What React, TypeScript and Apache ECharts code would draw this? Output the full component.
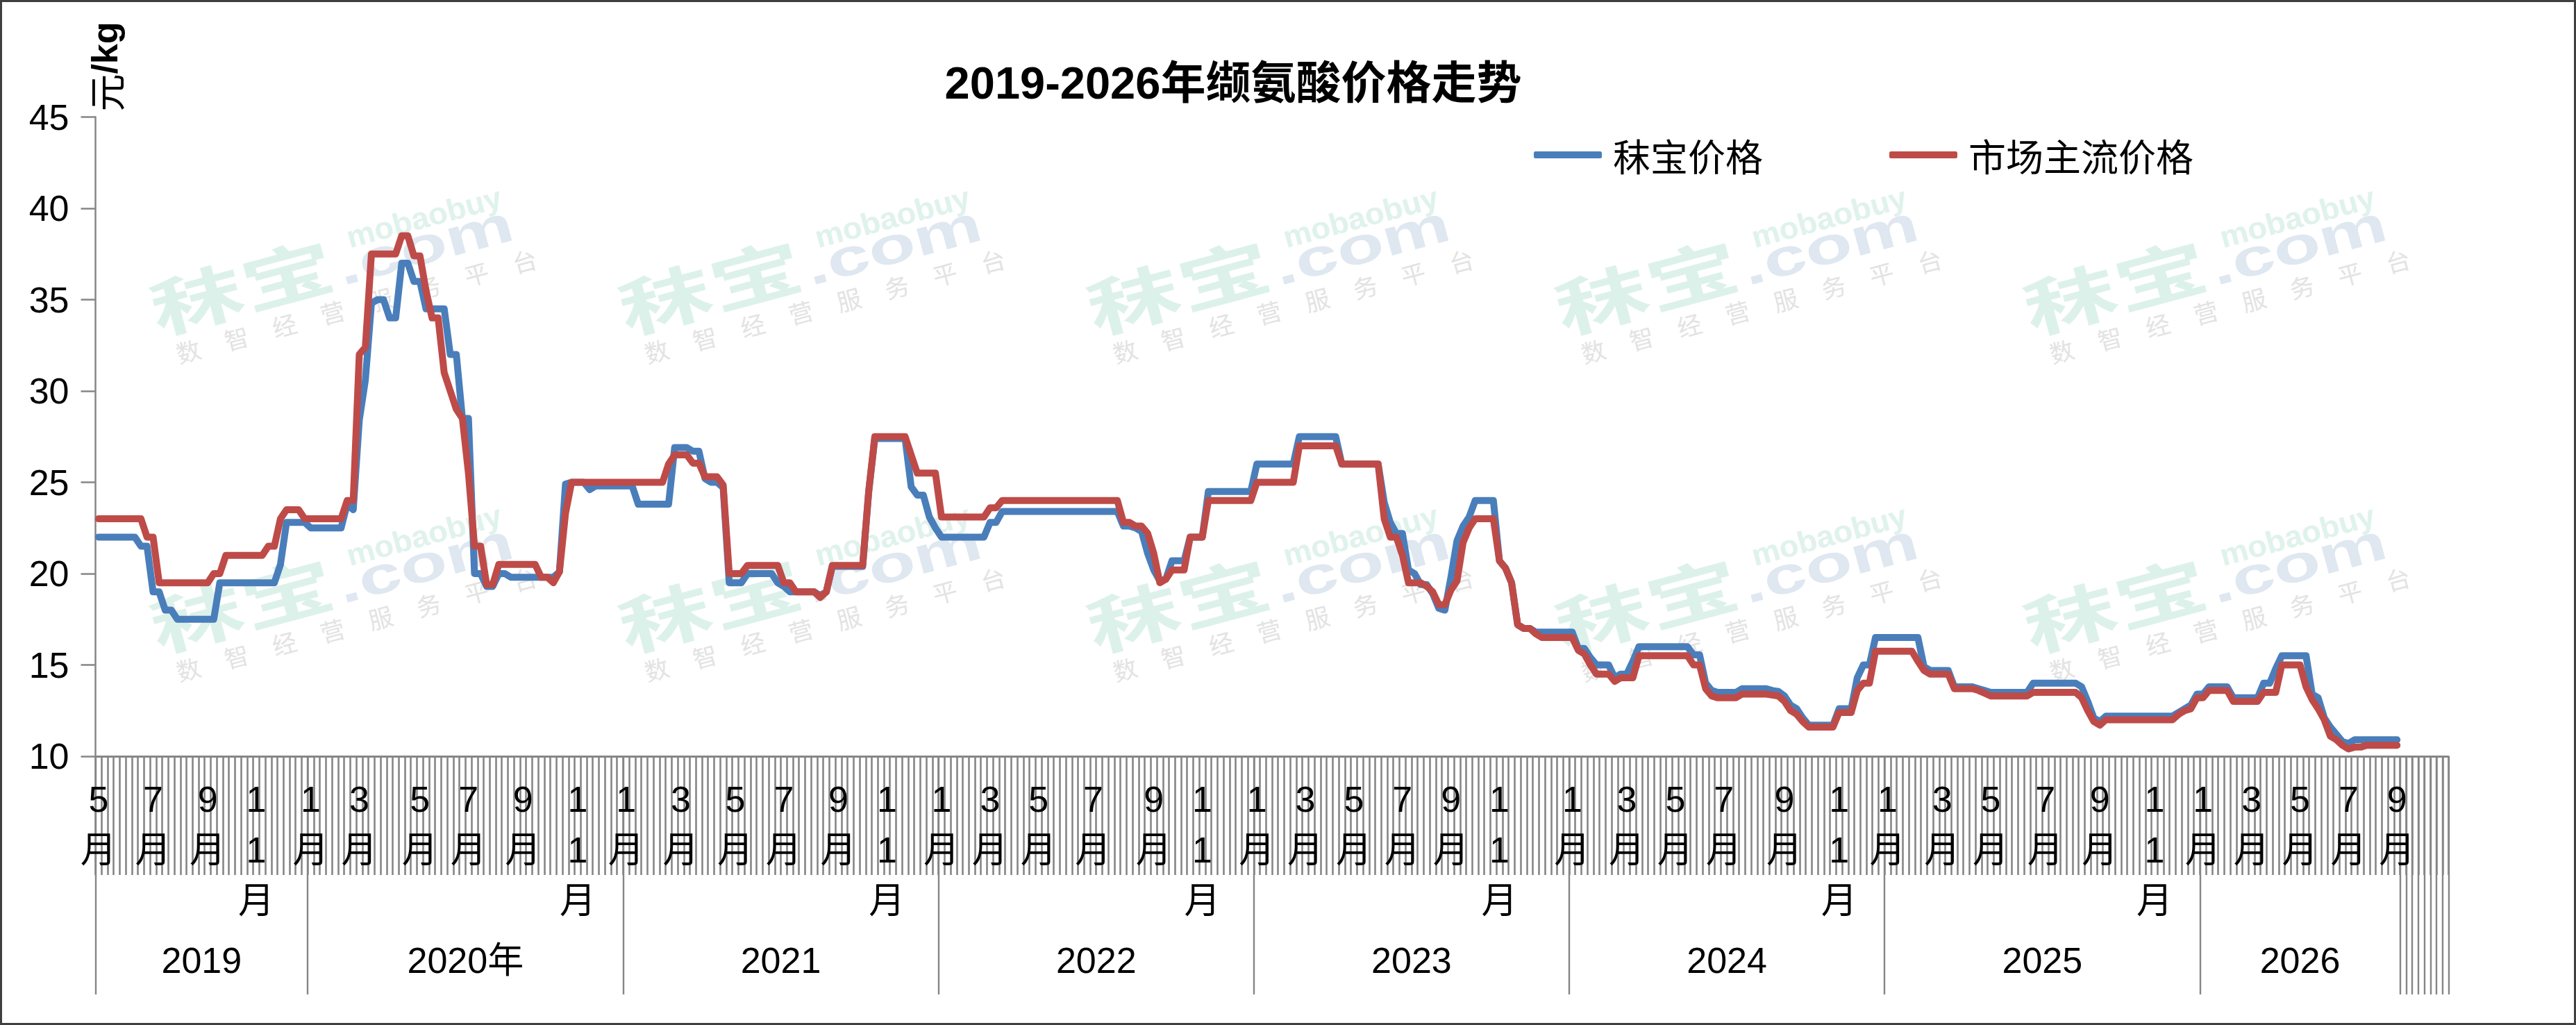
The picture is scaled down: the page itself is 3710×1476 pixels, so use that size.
import React, { useEffect, useRef } from "react";
import * as echarts from "echarts";

// ---------- categories / tick labels ----------
const yearLabels = ["2019", "2020年", "2021", "2022", "2023", "2024", "2025", "2026"];
const weeksPerYear = [35, 52, 52, 52, 52, 52, 52, 33];
const trailingBlankWeeks = 8;
const monthLabelWeeks = [
  [0, 9, 18, 26],
  [0, 8, 18, 26, 35, 44],
  [0, 9, 18, 26, 35, 43],
  [0, 8, 16, 25, 35, 43],
  [0, 8, 16, 24, 32, 40],
  [0, 9, 17, 25, 35, 44],
  [0, 9, 17, 26, 35, 44],
  [0, 8, 16, 24, 32],
];
const monthLabelNames = [
  ["5月", "7月", "9月", "11月"],
  ["1月", "3月", "5月", "7月", "9月", "11月"],
  ["1月", "3月", "5月", "7月", "9月", "11月"],
  ["1月", "3月", "5月", "7月", "9月", "11月"],
  ["1月", "3月", "5月", "7月", "9月", "11月"],
  ["1月", "3月", "5月", "7月", "9月", "11月"],
  ["1月", "3月", "5月", "7月", "9月", "11月"],
  ["1月", "3月", "5月", "7月", "9月"],
];
const yMin = 10;
const yMax = 45;
const yStep = 5;

// ---------- series values (weekly) ----------
const mobao2019 = [22, 22, 22, 22, 22, 22, 22, 21.5, 21.5, 19, 19, 18, 18, 17.5, 17.5, 17.5, 17.5, 17.5, 17.5, 17.5, 19.5, 19.5, 19.5, 19.5, 19.5, 19.5, 19.5, 19.5, 19.5, 19.5, 20.5, 22.8, 22.8, 22.8, 22.8];
const market2019 = [23, 23, 23, 23, 23, 23, 23, 23, 22, 22, 19.5, 19.5, 19.5, 19.5, 19.5, 19.5, 19.5, 19.5, 19.5, 20, 20, 21, 21, 21, 21, 21, 21, 21, 21.5, 21.5, 23, 23.5, 23.5, 23.5, 23];

const mobao2020 = [22.5, 22.5, 22.5, 22.5, 22.5, 22.5, 23.8, 23.5, 28.4, 30.6, 34.8, 35, 35, 34, 34, 37, 37, 36, 36, 34.5, 34.5, 34.5, 34.5, 32, 32, 28.5, 28.5, 20, 20, 19.3, 19.3, 20, 20, 19.8, 19.8, 19.8, 19.8, 19.8, 19.8, 19.8, 19.8, 20.1, 24.9, 25, 25, 25, 24.6, 24.8, 24.8, 24.8, 24.8, 24.8];
const market2020 = [23, 23, 23, 23, 23, 23, 24, 24, 32, 32.4, 37.5, 37.5, 37.5, 37.5, 37.5, 38.5, 38.5, 37.4, 37.4, 35.5, 34, 34, 31, 30, 29, 28.5, 25.5, 21.5, 21.5, 19.4, 19.4, 20.5, 20.5, 20.5, 20.5, 20.5, 20.5, 20.5, 19.8, 19.8, 19.5, 20.1, 23.3, 25, 25, 25, 25, 25, 25, 25, 25, 25];

const mobao2021 = [24.8, 24.8, 23.8, 23.8, 23.8, 23.8, 23.8, 23.8, 26.9, 26.9, 26.9, 26.7, 26.7, 25.2, 25, 25, 24.7, 19.5, 19.5, 19.5, 20, 20, 20, 20, 20, 19.5, 19.3, 19, 19, 19, 19, 19, 18.8, 19, 20.4, 20.4, 20.4, 20.4, 20.4, 20.4, 24.5, 27.4, 27.4, 27.4, 27.4, 27.4, 27.4, 24.75, 24.3, 24.3, 23.1, 22.5];
const market2021 = [25, 25, 25, 25, 25, 25, 25, 26, 26.5, 26.5, 26.5, 26.05, 26.05, 25.3, 25.3, 25.3, 24.85, 20, 20, 20, 20.45, 20.45, 20.45, 20.45, 20.45, 20.45, 19.5, 19.5, 19, 19, 19, 19, 18.7, 19, 20.45, 20.45, 20.45, 20.45, 20.45, 20.45, 24.5, 27.5, 27.5, 27.5, 27.5, 27.5, 27.5, 26.5, 25.5, 25.5, 25.5, 25.5];

const mobao2022 = [22, 22, 22, 22, 22, 22, 22, 22, 22.8, 22.8, 23.4, 23.4, 23.4, 23.4, 23.4, 23.4, 23.4, 23.4, 23.4, 23.4, 23.4, 23.4, 23.4, 23.4, 23.4, 23.4, 23.4, 23.4, 23.4, 23.4, 22.6, 22.6, 22.5, 22.3, 21.1, 20.2, 19.6, 19.7, 20.7, 20.7, 20.7, 22, 22, 22, 24.5, 24.5, 24.5, 24.5, 24.5, 24.5, 24.5, 24.5];
const market2022 = [23.1, 23.1, 23.1, 23.1, 23.1, 23.1, 23.1, 23.1, 23.6, 23.6, 24, 24, 24, 24, 24, 24, 24, 24, 24, 24, 24, 24, 24, 24, 24, 24, 24, 24, 24, 24, 22.8, 22.8, 22.6, 22.6, 22.2, 21.1, 19.5, 19.7, 20.2, 20.2, 20.2, 22, 22, 22, 24, 24, 24, 24, 24, 24, 24, 24];

const mobao2023 = [26, 26, 26, 26, 26, 26, 26, 27.5, 27.5, 27.5, 27.5, 27.5, 27.5, 27.5, 26, 26, 26, 26, 26, 26, 26, 23.9, 22.8, 22.2, 22.2, 20.2, 20, 19.4, 19.4, 18.9, 18.1, 18, 19.8, 21.8, 22.6, 23.1, 24, 24, 24, 24, 20.7, 20.3, 19.5, 17.2, 17, 17, 16.8, 16.8, 16.8, 16.8, 16.8, 16.8];
const market2023 = [25, 25, 25, 25, 25, 25, 25, 27, 27, 27, 27, 27, 27, 27, 26, 26, 26, 26, 26, 26, 26, 23, 22, 22, 21, 19.5, 19.5, 19.5, 19.3, 19, 18.3, 18.3, 19.1, 19.6, 21.7, 22.5, 23, 23, 23, 23, 20.7, 20.3, 19.5, 17.2, 17, 17, 16.7, 16.5, 16.5, 16.5, 16.5, 16.5];

const mobao2024 = [16.8, 15.9, 15.9, 15.4, 15, 15, 15, 14.3, 14.5, 14.5, 15.2, 16, 16, 16, 16, 16, 16, 16, 16, 16, 15.55, 15.55, 14, 13.6, 13.5, 13.5, 13.5, 13.5, 13.7, 13.7, 13.7, 13.7, 13.7, 13.6, 13.55, 13.3, 12.8, 12.6, 12.1, 11.7, 11.7, 11.7, 11.7, 11.7, 12.6, 12.6, 12.6, 14.3, 15, 15, 16.5, 16.5];
const market2024 = [16.5, 15.8, 15.6, 15, 14.5, 14.5, 14.5, 14.1, 14.3, 14.3, 14.3, 15.5, 15.5, 15.5, 15.5, 15.5, 15.5, 15.5, 15.5, 15.5, 15, 15, 13.7, 13.3, 13.2, 13.2, 13.2, 13.2, 13.4, 13.4, 13.4, 13.4, 13.4, 13.35, 13.3, 13, 12.5, 12.3, 11.9, 11.6, 11.6, 11.6, 11.6, 11.6, 12.4, 12.4, 12.4, 13.6, 14, 14, 15.75, 15.75];

const mobao2025 = [16.5, 16.5, 16.5, 16.5, 16.5, 16.5, 14.9, 14.7, 14.7, 14.7, 14.7, 13.8, 13.8, 13.8, 13.8, 13.7, 13.6, 13.5, 13.5, 13.5, 13.5, 13.5, 13.5, 13.5, 14, 14, 14, 14, 14, 14, 14, 14, 13.8, 13, 12.1, 11.9, 12.2, 12.2, 12.2, 12.2, 12.2, 12.2, 12.2, 12.2, 12.2, 12.2, 12.2, 12.2, 12.4, 12.6, 12.8, 13.4];
const market2025 = [15.75, 15.75, 15.75, 15.75, 15.75, 15.2, 14.7, 14.5, 14.5, 14.5, 14.5, 13.7, 13.7, 13.7, 13.7, 13.6, 13.45, 13.3, 13.3, 13.3, 13.3, 13.3, 13.3, 13.3, 13.5, 13.5, 13.5, 13.5, 13.5, 13.5, 13.5, 13.5, 13.2, 12.5, 11.9, 11.7, 12, 12, 12, 12, 12, 12, 12, 12, 12, 12, 12, 12, 12.3, 12.5, 12.6, 13.2];

const mobao2026 = [13.4, 13.8, 13.8, 13.8, 13.8, 13.2, 13.2, 13.2, 13.2, 13.2, 14, 14, 14.8, 15.5, 15.5, 15.5, 15.5, 15.5, 13.4, 13.2, 12.1, 11.6, 11.2, 10.8, 10.7, 10.9, 10.9, 10.9, 10.9, 10.9, 10.9, 10.9, 10.9];
const market2026 = [13.2, 13.6, 13.6, 13.6, 13.6, 13, 13, 13, 13, 13, 13.5, 13.5, 13.5, 15, 15, 15, 15, 13.8, 13.1, 12.6, 12, 11.1, 10.9, 10.6, 10.4, 10.5, 10.5, 10.6, 10.6, 10.6, 10.6, 10.6, 10.6];

const mobaoSeries = [...mobao2019, ...mobao2020, ...mobao2021, ...mobao2022, ...mobao2023, ...mobao2024, ...mobao2025, ...mobao2026];
const marketSeries = [...market2019, ...market2020, ...market2021, ...market2022, ...market2023, ...market2024, ...market2025, ...market2026];

// ---------- derived axis structure ----------
const categories: string[] = [];
const monthLabelAt: Record<number, string> = {};
const yearLabelAt: Record<number, { text: string; even: boolean }> = {};
const longTickAt: Record<number, boolean> = {};
let cursor = 0;
yearLabels.forEach((yl, yi) => {
  const n = weeksPerYear[yi];
  for (let w = 0; w < n; w++) categories.push(yl + "-" + (w + 1));
  monthLabelWeeks[yi].forEach((w, k) => {
    monthLabelAt[cursor + w] = monthLabelNames[yi][k];
  });
  yearLabelAt[cursor + Math.floor(n / 2)] = { text: yl, even: n % 2 === 0 };
  longTickAt[cursor] = true;
  cursor += n;
});
for (let t = 0; t < trailingBlankWeeks; t++) {
  categories.push("blank-" + t);
  longTickAt[cursor + t] = true;
}

const AXIS_GRAY = "#868686";
const LATIN = "'Liberation Sans', Arial, 'Noto Sans CJK SC'";
const CJK = "'Noto Sans CJK SC', 'Liberation Sans'";

// ---------- watermark ----------
const wmChars = ["数", "智", "经", "营", "服", "务", "平", "台"];
const wmXs = [237.5, 912, 1586.5, 2261, 2935.5];
const wmYs = [480, 938];
function watermark(x: number, y: number) {
  const children: any[] = [
    {
      type: "text",
      x: -10,
      y: -40,
      scaleX: 1.48,
      style: { text: "秣宝", fontSize: 91, fontWeight: "bold", fontFamily: CJK, fill: "#ddf1eb", align: "left", verticalAlign: "middle" },
    },
    {
      type: "text",
      x: 265,
      y: -26,
      scaleX: 1.48,
      style: { text: ".com", fontSize: 75, fontWeight: "bold", fontFamily: LATIN, fill: "#dfe7f0", align: "left", verticalAlign: "middle" },
    },
    {
      type: "text",
      x: 289,
      y: -65,
      scaleX: 1.03,
      style: { text: "mobaobuy", fontSize: 44, fontWeight: "bold", fontFamily: LATIN, fill: "#dff2ec", align: "left", verticalAlign: "middle" },
    },
  ];
  wmChars.forEach((c, k) => {
    children.push({
      type: "text",
      x: 26 + 71.6 * k,
      y: 32,
      style: { text: c, fontSize: 35, fontFamily: CJK, fill: "#e3e3e3", align: "center", verticalAlign: "middle" },
    });
  });
  return { type: "group", x, y, rotation: (15 * Math.PI) / 180, silent: true, z: 1, children };
}

const graphics: any[] = [];
wmYs.forEach((y) => wmXs.forEach((x) => graphics.push(watermark(x, y))));
graphics.push({
  type: "text",
  x: 1776,
  y: 119,
  z: 10,
  style: {
    text: "2019-2026年缬氨酸价格走势",
    fontSize: 65,
    fontWeight: "bold",
    fontFamily: LATIN,
    fill: "#000",
    align: "center",
    verticalAlign: "middle",
  },
});
graphics.push({
  type: "text",
  x: 151,
  y: 96,
  rotation: Math.PI / 2,
  z: 10,
  style: {
    text: "{a|元}{b|/kg}",
    align: "center",
    verticalAlign: "middle",
    rich: {
      a: { fontSize: 54, fontFamily: CJK, fill: "#000" },
      b: { fontSize: 52, fontWeight: "bold", fontFamily: LATIN, fill: "#000" },
    },
  },
});
graphics.push({
  type: "rect",
  z: 10,
  silent: true,
  shape: { x: 1.5, y: 1.5, width: 3707, height: 1473 },
  style: { fill: "none", stroke: "#3f3f3f", lineWidth: 3 },
});

const option: any = {
  animation: false,
  backgroundColor: "#ffffff",
  grid: { left: 137.5, right: 183.5, top: 168.5, bottom: 387, containLabel: false, outerBoundsMode: "none" },
  legend: {
    left: 2209,
    top: 193,
    padding: 0,
    itemWidth: 98,
    itemHeight: 10,
    itemGap: 182,
    icon: "roundRect",
    data: ["秣宝价格", "市场主流价格"],
    textStyle: { fontSize: 54, fontFamily: CJK, color: "#000", lineHeight: 60, padding: [0, 0, 0, 11] },
  },
  xAxis: [
    {
      type: "category",
      data: categories,
      boundaryGap: true,
      position: "bottom",
      axisLine: { show: true, lineStyle: { color: AXIS_GRAY, width: 3 } },
      axisTick: { show: true, interval: 0, length: 171, lineStyle: { color: AXIS_GRAY, width: 2.6 } },
      axisLabel: {
        interval: (i: number) => monthLabelAt[i] !== undefined,
        formatter: (_v: string, i: number) => (monthLabelAt[i] ? monthLabelAt[i].split("").join("\n") : ""),
        fontSize: 52,
        lineHeight: 73,
        margin: 25,
        color: "#000",
        fontFamily: LATIN,
      },
      splitLine: { show: false },
    },
    {
      type: "category",
      data: categories,
      boundaryGap: true,
      position: "bottom",
      axisLine: { show: false },
      axisTick: { show: true, interval: (i: number) => !!longTickAt[i], length: 343, lineStyle: { color: AXIS_GRAY, width: 2.4 } },
      axisLabel: {
        interval: (i: number) => yearLabelAt[i] !== undefined,
        formatter: (_v: string, i: number) => {
          const y = yearLabelAt[i];
          if (!y) return "";
          return y.even ? "{e|" + y.text + "}" : "{o|" + y.text + "}";
        },
        margin: 264,
        color: "#000",
        fontSize: 52,
        lineHeight: 60,
        fontFamily: LATIN,
        rich: {
          e: { fontSize: 52, lineHeight: 60, fontFamily: LATIN, color: "#000", padding: [0, 8.7, 0, 0] },
          o: { fontSize: 52, lineHeight: 60, fontFamily: LATIN, color: "#000" },
        },
      },
      splitLine: { show: false },
    },
  ],
  yAxis: {
    type: "value",
    min: yMin,
    max: yMax,
    interval: yStep,
    axisLine: { show: true, lineStyle: { color: AXIS_GRAY, width: 2.5 } },
    axisTick: { show: true, length: 21, lineStyle: { color: AXIS_GRAY, width: 2.5 } },
    axisLabel: { fontSize: 52, color: "#000", margin: 38, fontFamily: LATIN },
    splitLine: { show: false },
  },
  graphic: graphics,
  series: [
    {
      name: "秣宝价格",
      type: "line",
      xAxisIndex: 0,
      data: mobaoSeries,
      symbol: "none",
      smooth: false,
      color: "#4A7EBB",
      lineStyle: { color: "#4A7EBB", width: 10, cap: "round", join: "round" },
      z: 3,
    },
    {
      name: "市场主流价格",
      type: "line",
      xAxisIndex: 0,
      data: marketSeries,
      symbol: "none",
      smooth: false,
      color: "#BE4B48",
      lineStyle: { color: "#BE4B48", width: 10, cap: "round", join: "round" },
      z: 4,
    },
  ],
};

export default function App() {
  const ref = useRef<HTMLDivElement>(null);
  useEffect(() => {
    document.body.style.margin = "0";
    const chart = echarts.init(ref.current as HTMLDivElement, undefined, { renderer: "svg" });
    chart.setOption(option);
    return () => chart.dispose();
  }, []);
  return <div ref={ref} style={{ width: 3710, height: 1476, background: "#ffffff" }} />;
}
